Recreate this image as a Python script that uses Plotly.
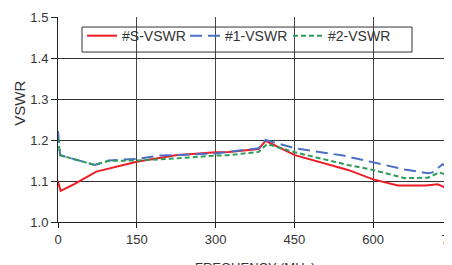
import plotly.graph_objects as go

# Frequency (MHz) / VSWR values
s_freq = [0, 5, 30, 73, 150, 224, 300, 325, 382, 395, 451, 530, 552, 600, 647, 700, 723, 735, 750]
s_vswr = [1.099, 1.076, 1.092, 1.123, 1.147, 1.163, 1.170, 1.171, 1.178, 1.198, 1.163, 1.135, 1.127, 1.104, 1.089, 1.089, 1.092, 1.085, 1.066]

one_freq = [0, 4, 70, 96, 150, 193, 300, 325, 382, 395, 451, 543, 600, 660, 704, 713, 732, 750]
one_vswr = [1.222, 1.163, 1.139, 1.150, 1.154, 1.162, 1.167, 1.171, 1.180, 1.200, 1.180, 1.162, 1.146, 1.128, 1.119, 1.121, 1.141, 1.128]

two_freq = [0, 4, 70, 96, 150, 224, 300, 325, 382, 398, 451, 530, 552, 600, 660, 704, 726, 750]
two_vswr = [1.205, 1.163, 1.139, 1.149, 1.150, 1.155, 1.162, 1.163, 1.171, 1.190, 1.170, 1.145, 1.139, 1.127, 1.107, 1.108, 1.121, 1.110]

x_ticks = [0, 150, 300, 450, 600, 750]
y_ticks = [1.0, 1.1, 1.2, 1.3, 1.4, 1.5]

FONT = "Liberation Sans, Arial, sans-serif"

fig = go.Figure()
fig.add_trace(go.Scatter(x=s_freq, y=s_vswr, mode="lines", name="#S-VSWR",
                         line=dict(color="#ee1c25", width=2)))
fig.add_trace(go.Scatter(x=one_freq, y=one_vswr, mode="lines", name="#1-VSWR",
                         line=dict(color="#4a6fc4", width=2, dash="12px,6px")))
fig.add_trace(go.Scatter(x=two_freq, y=two_vswr, mode="lines", name="#2-VSWR",
                         line=dict(color="#2e9b5a", width=2, dash="5px,3px")))

fig.update_layout(
    width=452, height=265,
    margin=dict(l=50, r=8, t=9, b=51, autoexpand=False),
    paper_bgcolor="white", plot_bgcolor="white",
    font=dict(family=FONT, size=13, color="#333333"),
    showlegend=True,
    legend=dict(orientation="h", x=0.061, y=0.985, xanchor="left", yanchor="top",
                borderwidth=0, bgcolor="rgba(0,0,0,0)",
                font=dict(family=FONT, size=14, color="#333333"),
                entrywidth=58, entrywidthmode="pixels",
                itemwidth=30, tracegroupgap=0),
    xaxis=dict(range=[0, 750], tickvals=x_ticks, ticktext=[str(v) for v in x_ticks],
               showgrid=True, gridcolor="#444444", gridwidth=1,
               showline=True, linecolor="#222222", linewidth=1,
               ticks="outside", ticklen=5, tickcolor="#222222",
               ticklabeloverflow="allow", automargin=False,
               zeroline=False, fixedrange=True),
    yaxis=dict(range=[1.0, 1.5], tickvals=y_ticks, ticktext=[f"{v:.1f}" for v in y_ticks],
               showgrid=True, gridcolor="#333333", gridwidth=1,
               showline=True, linecolor="#222222", linewidth=1,
               ticks="outside", ticklen=6, tickcolor="#222222",
               automargin=False,
               zeroline=False, fixedrange=True),
    shapes=[
        dict(type="rect", xref="paper", yref="paper", x0=0.0609, x1=0.8985,
             y0=0.829, y1=0.951, line=dict(color="#333333", width=1),
             fillcolor="rgba(0,0,0,0)", layer="above"),
    ],
    annotations=[
        dict(text="VSWR", xref="paper", yref="paper", x=-0.10, y=0.58,
             xanchor="center", yanchor="middle", textangle=-90, showarrow=False,
             font=dict(family=FONT, size=15, color="#333333")),
        dict(text="FREQUENCY (MHz)", xref="paper", yref="paper", x=0.5, y=-0.175,
             xanchor="center", yanchor="top", showarrow=False,
             font=dict(family=FONT, size=13, color="#333333")),
    ],
)

fig.write_html("out.html")
